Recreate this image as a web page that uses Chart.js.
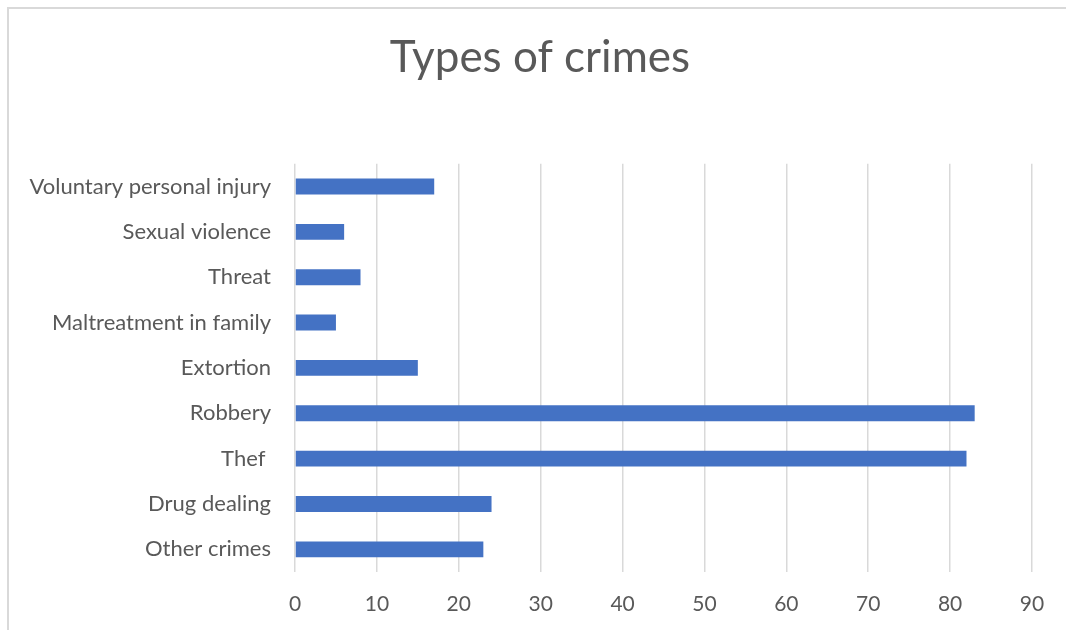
<!DOCTYPE html>
<html>
<head>
<meta charset="utf-8">
<script src="https://cdn.jsdelivr.net/npm/chart.js@4.4.1/dist/chart.umd.min.js"></script>
<style>
  html, body { margin: 0; padding: 0; background: #fff; }
  #wrap { position: relative; width: 1066px; height: 630px; }
</style>
</head>
<body>
<div id="wrap"><canvas id="chart" width="1066" height="630"></canvas></div>
<script>
// categories top to bottom, as in the picture
const categories = [
  'Voluntary personal injury',
  'Sexual violence',
  'Threat',
  'Maltreatment in family',
  'Extortion',
  'Robbery',
  'Thef ',
  'Drug dealing',
  'Other crimes'
];
const crimeCounts = [17, 6, 8, 5, 15, 83, 82, 24, 23];
const xTicks = [0, 10, 20, 30, 40, 50, 60, 70, 80, 90];

const textColor = '#595959';
const gridColor = '#d9d9d9';
const fontFamily = 'Lato, "Open Sans", sans-serif';

// white background + thin frame like the office chart border
const framePlugin = {
  id: 'frame',
  beforeDraw(chart) {
    const ctx = chart.ctx;
    ctx.save();
    ctx.fillStyle = '#fff';
    ctx.fillRect(0, 0, chart.width, chart.height);
    ctx.strokeStyle = gridColor;
    ctx.lineWidth = 2;
    ctx.strokeRect(8, 8, chart.width + 20, chart.height + 20);
    ctx.restore();
  }
};

const ctx = document.getElementById('chart').getContext('2d');
new Chart(ctx, {
  type: 'bar',
  data: {
    labels: categories,
    datasets: [{
      label: 'Types of crimes',
      data: crimeCounts,
      backgroundColor: '#4472C4',
      borderWidth: 0,
      barPercentage: 0.35,
      categoryPercentage: 1
    }]
  },
  options: {
    indexAxis: 'y',
    responsive: false,
    animation: false,
    layout: { padding: { left: 14, right: 0, top: 0, bottom: 0 } },
    plugins: {
      legend: { display: false },
      tooltip: { enabled: false },
      title: {
        display: true,
        text: 'Types of crimes',
        color: textColor,
        font: { family: fontFamily, size: 44, weight: 'normal' },
        padding: { top: 31, bottom: 80 }
      }
    },
    scales: {
      x: {
        min: 0,
        max: 90,
        afterBuildTicks(scale) {
          scale.ticks = xTicks.map(v => ({ value: v }));
        },
        afterFit(scale) { scale.height = 58; },
        grid: { color: gridColor, lineWidth: 1.5, drawTicks: false },
        border: { display: false },
        ticks: {
          color: textColor,
          padding: 20,
          font: { family: fontFamily, size: 21 }
        }
      },
      y: {
        afterFit(scale) { scale.width = 281; },
        grid: { display: false },
        border: { display: false },
        ticks: {
          color: textColor,
          padding: 16,
          font: { family: fontFamily, size: 22 }
        }
      },
      // empty right-hand axis, only keeps the 34px gap right of the plot
      yRight: {
        position: 'right',
        afterFit(scale) { scale.width = 34; },
        grid: { display: false },
        border: { display: false },
        ticks: { display: false }
      }
    }
  },
  plugins: [framePlugin]
});
</script>
</body>
</html>
